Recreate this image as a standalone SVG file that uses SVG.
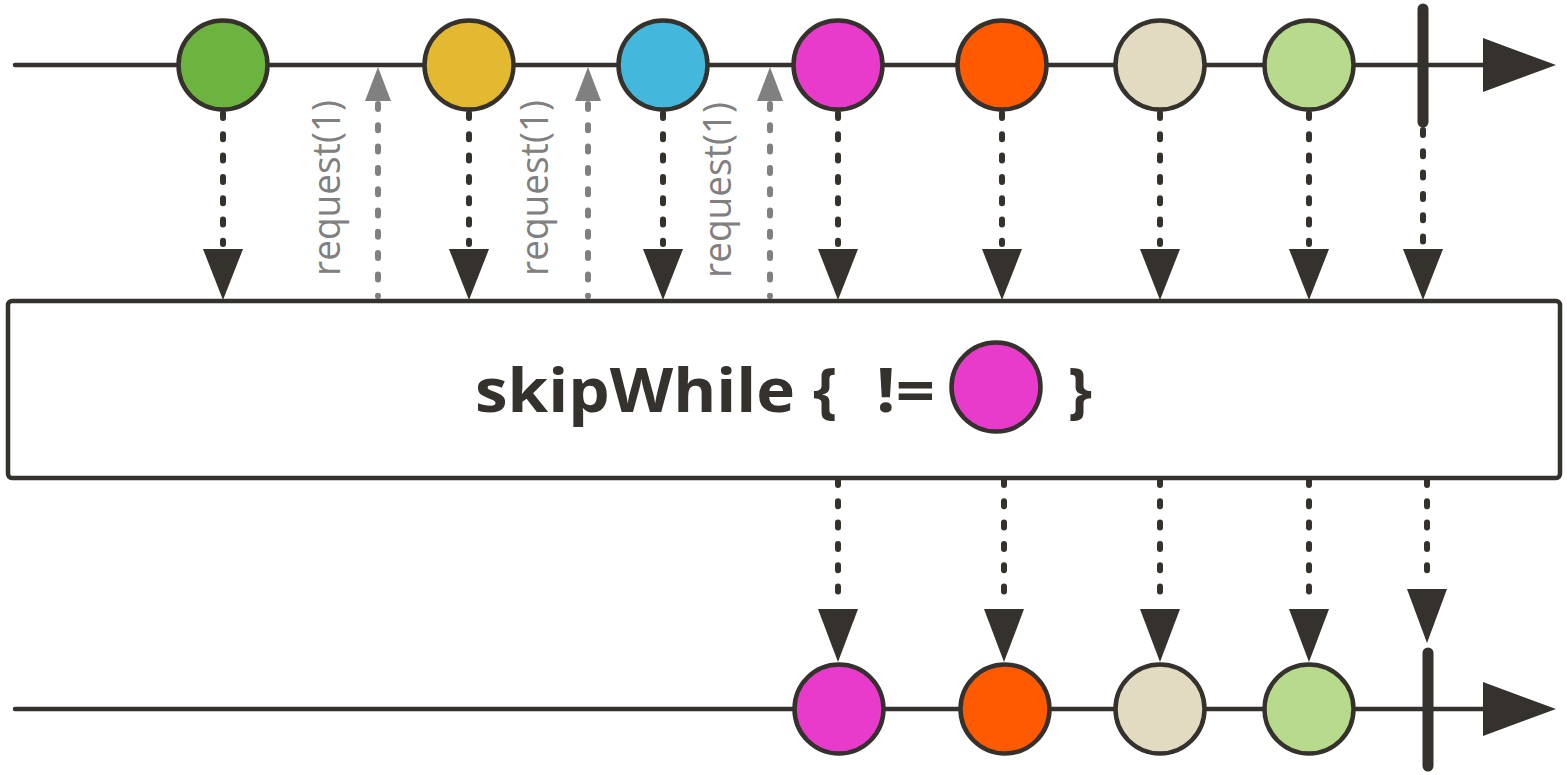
<svg xmlns="http://www.w3.org/2000/svg" width="1567" height="775" viewBox="0 0 1567 775">
<style>
.line{stroke:#35312c;stroke-width:4.5;fill:none;stroke-linecap:round}
.bar{stroke:#35312c;stroke-width:11;stroke-linecap:round;fill:none}
.m{stroke:#35312c;stroke-width:4.5}
.dot{stroke:#35312c;stroke-width:6;stroke-linecap:round;stroke-dasharray:5 16.3;fill:none}
.gdot{stroke:#808080;stroke-width:6;stroke-linecap:round;stroke-dasharray:5 16.3;fill:none}
.ah{fill:#35312c}
.gah{fill:#808080}
.req{font-family:"Open Sans","Liberation Sans",sans-serif;font-size:38px;fill:#808080}
.op{font-family:"Open Sans","Liberation Sans",sans-serif;font-weight:bold;font-size:61px;fill:#35312c}
</style>
<rect width="1567" height="775" fill="#ffffff"/>

<g id="timelines">
  <line class="line" x1="15" y1="65" x2="1490" y2="65"/>
  <polygon class="ah" points="1483,38 1556,65 1483,92"/>
  <line class="line" x1="15" y1="709" x2="1490" y2="709"/>
  <polygon class="ah" points="1483,682 1556,709 1483,736"/>
</g>

<g id="connectors">
  <!-- top to operator -->
  <line class="dot" x1="223" y1="113" x2="223" y2="244"/>
  <polygon class="ah" points="203,249 243,249 223,300"/>
  <line class="dot" x1="469" y1="113" x2="469" y2="244"/>
  <polygon class="ah" points="449,249 489,249 469,300"/>
  <line class="dot" x1="663" y1="113" x2="663" y2="244"/>
  <polygon class="ah" points="643,249 683,249 663,300"/>
  <line class="dot" x1="838" y1="113" x2="838" y2="244"/>
  <polygon class="ah" points="818,249 858,249 838,300"/>
  <line class="dot" x1="1002" y1="113" x2="1002" y2="244"/>
  <polygon class="ah" points="982,249 1022,249 1002,300"/>
  <line class="dot" x1="1160" y1="113" x2="1160" y2="244"/>
  <polygon class="ah" points="1140,249 1180,249 1160,300"/>
  <line class="dot" x1="1309" y1="113" x2="1309" y2="244"/>
  <polygon class="ah" points="1289,249 1329,249 1309,300"/>
  <line class="dot" x1="1423" y1="130" x2="1423" y2="244"/>
  <polygon class="ah" points="1403,249 1443,249 1423,300"/>
  <!-- request arrows -->
  <line class="gdot" x1="378" y1="104" x2="378" y2="296"/>
  <polygon class="gah" points="365,101 391,101 378,67"/>
  <line class="gdot" x1="588" y1="104" x2="588" y2="296"/>
  <polygon class="gah" points="575,101 601,101 588,67"/>
  <line class="gdot" x1="770" y1="104" x2="770" y2="296"/>
  <polygon class="gah" points="757,101 783,101 770,67"/>
  <!-- operator to bottom -->
  <line class="dot" x1="838" y1="480" x2="838" y2="606"/>
  <polygon class="ah" points="818,609 858,609 838,662"/>
  <line class="dot" x1="1004" y1="480" x2="1004" y2="606"/>
  <polygon class="ah" points="984,609 1024,609 1004,662"/>
  <line class="dot" x1="1160" y1="480" x2="1160" y2="606"/>
  <polygon class="ah" points="1140,609 1180,609 1160,662"/>
  <line class="dot" x1="1309" y1="480" x2="1309" y2="606"/>
  <polygon class="ah" points="1289,609 1329,609 1309,662"/>
  <line class="dot" x1="1427" y1="480" x2="1427" y2="585"/>
  <polygon class="ah" points="1407,589 1447,589 1427,643"/>
</g>

<g id="request-labels">
  <text class="req" transform="translate(340,276) rotate(-90)" textLength="176" lengthAdjust="spacingAndGlyphs">request(1)</text>
  <text class="req" transform="translate(548,276) rotate(-90)" textLength="176" lengthAdjust="spacingAndGlyphs">request(1)</text>
  <text class="req" transform="translate(731,278) rotate(-90)" textLength="176" lengthAdjust="spacingAndGlyphs">request(1)</text>
</g>

<g id="src-green"><circle class="m" cx="223" cy="65" r="44.5" fill="#6db33f"/></g>
<g id="src-yellow"><circle class="m" cx="469" cy="65" r="44.5" fill="#e4b932"/></g>
<g id="src-blue"><circle class="m" cx="663" cy="65" r="44.5" fill="#44b8dc"/></g>
<g id="src-magenta"><circle class="m" cx="838" cy="65" r="44.5" fill="#e83bcb"/></g>
<g id="src-orange"><circle class="m" cx="1002" cy="65" r="44.5" fill="#ff5a00"/></g>
<g id="src-beige"><circle class="m" cx="1160" cy="65" r="44.5" fill="#e2dbc1"/></g>
<g id="src-lightgreen"><circle class="m" cx="1309" cy="65" r="44.5" fill="#b8da8c"/></g>
<g id="src-complete"><line class="bar" x1="1423" y1="9" x2="1423" y2="122"/></g>

<g id="operator">
  <rect x="8" y="301" width="1552" height="177" rx="4" fill="#ffffff" stroke="#35312c" stroke-width="4.5"/>
  <text class="op" x="475" y="412" textLength="320" lengthAdjust="spacingAndGlyphs">skipWhile</text>
  <text class="op" x="813" y="412">{</text>
  <text class="op" x="876" y="412" textLength="59" lengthAdjust="spacingAndGlyphs">!=</text>
  <circle class="m" cx="996" cy="387" r="44.5" fill="#e83bcb"/>
  <text class="op" x="1068" y="412">}</text>
</g>

<g id="out-magenta"><circle class="m" cx="839" cy="709" r="44.5" fill="#e83bcb"/></g>
<g id="out-orange"><circle class="m" cx="1005" cy="709" r="44.5" fill="#ff5a00"/></g>
<g id="out-beige"><circle class="m" cx="1160" cy="709" r="44.5" fill="#e2dbc1"/></g>
<g id="out-lightgreen"><circle class="m" cx="1309" cy="709" r="44.5" fill="#b8da8c"/></g>
<g id="out-complete"><line class="bar" x1="1428" y1="653" x2="1428" y2="766"/></g>
</svg>
